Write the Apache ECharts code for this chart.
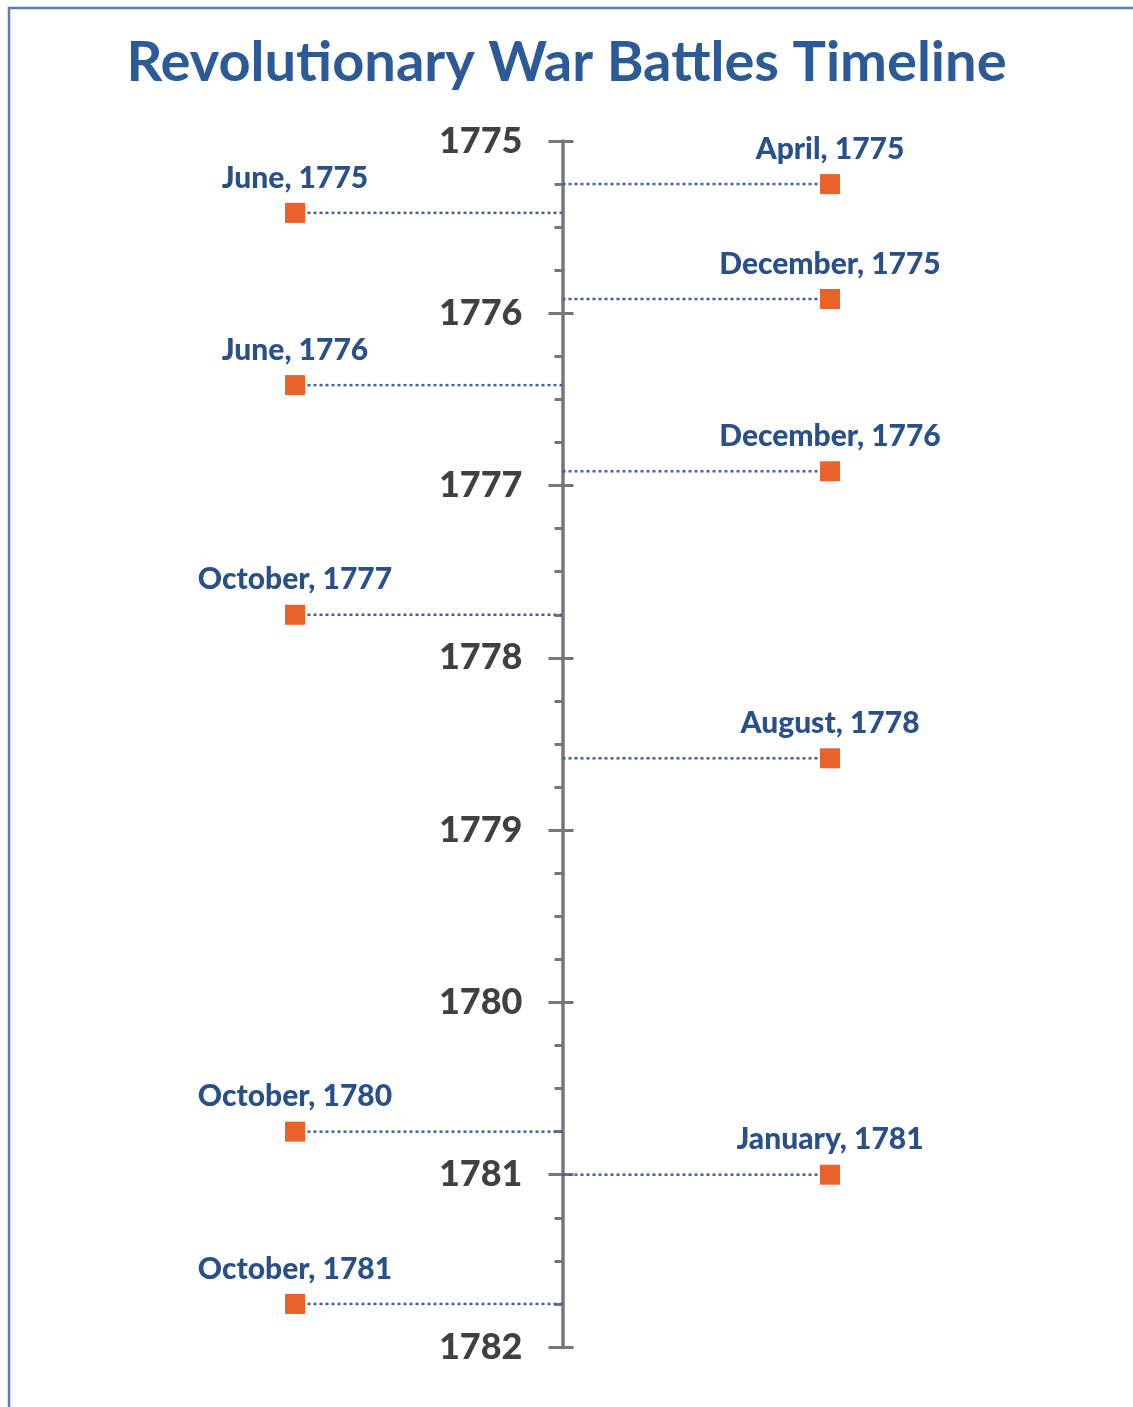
<!DOCTYPE html>
<html>
<head>
<meta charset="utf-8">
<script src="https://cdn.jsdelivr.net/npm/echarts@6/dist/echarts.min.js"></script>
<style>
html,body{margin:0;padding:0;background:#fff;}
#chart{width:1133px;height:1407px;}
</style>
</head>
<body>
<div id="chart"></div>
<script>
// ---- data ----
const titleText = 'Revolutionary War Battles Timeline';
const eventLabels = ['April, 1775', 'June, 1775', 'December, 1775', 'June, 1776', 'December, 1776',
  'October, 1777', 'August, 1778', 'October, 1780', 'January, 1781', 'October, 1781'];
const eventDates = [1775.25, 1775.417, 1775.917, 1776.417, 1776.917,
  1777.75, 1778.583, 1780.75, 1781.0, 1781.75];
const eventSides = [1, -1, 1, -1, 1, -1, 1, -1, 1, -1];
const yearMin = 1775;
const yearMax = 1782;

const FONT = 'Lato, "Open Sans", sans-serif';
const points = eventDates.map((d, i) => [eventSides[i], d, eventLabels[i]]);

const GRID_LEFT = 295, GRID_RIGHT = 303, W = 1133;
const halfWidth = (W - GRID_LEFT - GRID_RIGHT) / 2;

const chart = echarts.init(document.getElementById('chart'), null, {renderer: 'canvas'});
chart.setOption({
  backgroundColor: '#ffffff',
  animation: false,
  title: {
    text: titleText,
    left: 'center',
    top: 30,
    textStyle: {fontFamily: FONT, fontWeight: 'bold', fontSize: 56, color: '#2c5a96'}
  },
  graphic: [{
    type: 'rect',
    shape: {x: 9, y: 8, width: 2000, height: 2000},
    style: {fill: 'none', stroke: '#5b7db0', lineWidth: 2.5},
    silent: true
  }],
  grid: {left: GRID_LEFT, right: GRID_RIGHT, top: 141, bottom: 60, containLabel: false},
  xAxis: {
    type: 'value', min: -1, max: 1, show: false
  },
  yAxis: [{
    type: 'value', inverse: true, min: yearMin, max: yearMax, interval: 1,
    position: 'left',
    offset: -halfWidth,
    axisLine: {show: true, onZero: false, lineStyle: {color: '#777777', width: 3.5}},
    axisTick: {show: true, length: 14, lineStyle: {color: '#777777', width: 3}},
    minorTick: {show: true, splitNumber: 4, length: 8, lineStyle: {color: '#777777', width: 3}},
    splitLine: {show: false},
    axisLabel: {show: true, margin: 40, formatter: v => String(v),
      fontFamily: FONT, fontWeight: 900, fontSize: 36, color: '#404040'}
  }, {
    type: 'value', inverse: true, min: yearMin, max: yearMax, interval: 1,
    position: 'right',
    offset: -halfWidth,
    axisLine: {show: false, onZero: false},
    axisTick: {show: true, length: 11, lineStyle: {color: '#777777', width: 3}},
    splitLine: {show: false},
    axisLabel: {show: false}
  }],
  series: [{
    type: 'custom',
    coordinateSystem: 'cartesian2d',
    data: points,
    z: 1,
    renderItem: function (params, api) {
      const x = api.value(0), y = api.value(1);
      const p0 = api.coord([0, y]);
      const p1 = api.coord([x, y]);
      return {
        type: 'line',
        shape: {x1: p0[0], y1: p0[1], x2: p1[0], y2: p1[1]},
        style: {stroke: '#41629c', lineWidth: 2.5, lineDash: [3, 3]}
      };
    }
  }, {
    type: 'scatter',
    data: points,
    z: 3,
    symbol: 'rect',
    symbolSize: 20,
    itemStyle: {color: '#e8622a', opacity: 1},
    label: {
      show: true,
      position: 'top',
      distance: 10,
      formatter: p => p.data[2],
      fontFamily: FONT, fontWeight: 900, fontSize: 30, color: '#2a5089'
    }
  }]
});
</script>
</body>
</html>
